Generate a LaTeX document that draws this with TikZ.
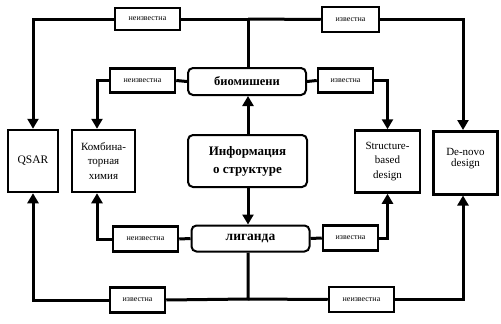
\documentclass[tikz,border=0pt]{standalone}
\usepackage{fontspec}
\setmainfont{Liberation Serif}
\usetikzlibrary{arrows.meta}
\begin{document}
\begin{tikzpicture}[x=1pt,y=-1pt,
  conn/.style={line width=3pt},
  arr/.style={line width=3pt,-{Triangle[width=11pt,length=10pt]}},
  lbl/.style={draw,line width=2.5pt,inner sep=0pt,font=\fontsize{8}{9}\selectfont},
  hub/.style={draw,line width=2pt,rounded corners=5pt,inner sep=0pt,font=\bfseries},
  goal/.style={draw,line width=2.5pt,inner sep=0pt,align=center,font=\fontsize{11}{14.5}\selectfont,minimum width=50pt,minimum height=62pt}]
\useasboundingbox (0,0) rectangle (501,324);
% hubs
\node[hub,minimum width=118pt,minimum height=27pt,font=\bfseries\fontsize{12.5}{13}\selectfont] (bio) at (247,81.5) {биомишени};
\node[hub,minimum width=119pt,minimum height=52pt,align=center,font=\bfseries\fontsize{13}{18}\selectfont] (info) at (247.5,161) {Информация\\о структуре};
\node[hub,minimum width=118pt,minimum height=26pt,font=\bfseries\fontsize{13.5}{14}\selectfont] (lig) at (250.5,238.5) {лиганда};
% goals
\node[goal,font=\fontsize{11.5}{14}\selectfont] (qsar) at (33,161) {QSAR};
\node[goal,minimum width=63pt] (komb) at (103.5,161) {Комбина-\\торная\\химия};
\node[goal,minimum width=65pt] (sb) at (387.5,161.5) {Structure-\\based\\design};
\node[goal,minimum width=64pt,minimum height=63pt,anchor=north] (dn) at (465.5,130) {\raisebox{10pt}{\shortstack{De-novo\\design}}};
% labels
\node[lbl,minimum width=65pt,minimum height=22pt] (n1) at (147.5,19) {неизвестна};
\node[lbl,minimum width=57pt,minimum height=25pt] (k1) at (350.5,19.5) {известна};
\node[lbl,minimum width=65pt,minimum height=24pt] (n2) at (142.5,80.5) {неизвестна};
\node[lbl,minimum width=55pt,minimum height=24pt] (k2) at (345.5,80.5) {известна};
\node[lbl,minimum width=65pt,minimum height=25pt] (n3) at (145.5,239) {неизвестна};
\node[lbl,minimum width=55pt,minimum height=25pt] (k3) at (350.5,238) {известна};
\node[lbl,minimum width=55pt,minimum height=25pt] (k4) at (137.5,300) {известна};
\node[lbl,minimum width=65pt,minimum height=25pt] (n4) at (361.5,299.5) {неизвестна};
% coordinates
\coordinate (tc) at (248,19);
\coordinate (bc) at (248,299);
\coordinate (kx) at (97,0);
\coordinate (dx) at (463,0);
% top
\draw[conn] (bio.north -| tc) -- (tc) -- (n1.east);
\draw[arr] (n1.west) -| (qsar.north);
\draw[conn] (tc) -- (k1.west);
\draw[arr] (k1.east) -| (dn.north -| dx);
% middle upper
\draw[conn] (bio.west) -- (n2.east);
\draw[arr] (n2.west) -| (komb.north -| kx);
\draw[conn] (bio.east) -- (k2.west);
\draw[arr] (k2.east) -| (sb.north);
% info
\draw[arr] (info.north -| tc) -- (bio.south -| tc);
\draw[arr] (info.south -| tc) -- (lig.north -| tc);
% ligand row
\draw[conn] (lig.west) -- (n3.east);
\draw[arr] (n3.west) -| (komb.south -| kx);
\draw[conn] (lig.east) -- (k3.west);
\draw[arr] (k3.east) -| (sb.south);
% bottom
\draw[conn] (lig.south -| bc) -- (bc) -- (k4.east);
\draw[arr] (k4.west) -| (qsar.south);
\draw[conn] (bc) -- (n4.west);
\draw[arr] (n4.east) -| (dn.south -| dx);
\end{tikzpicture}
\end{document}
